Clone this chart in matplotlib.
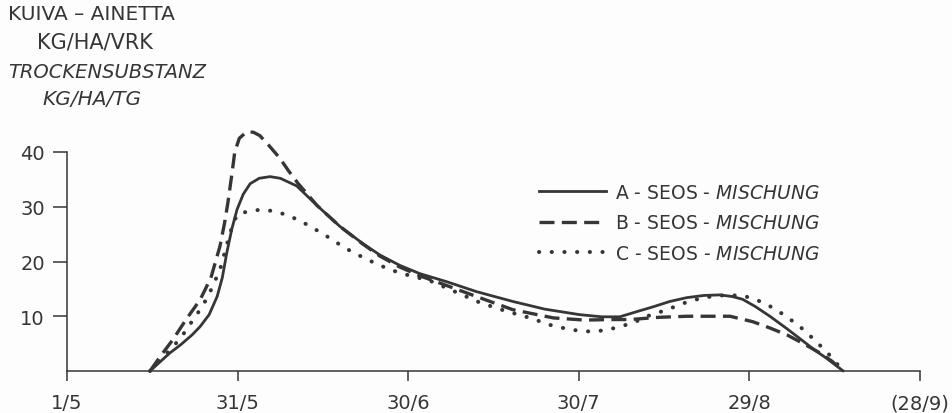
import matplotlib
matplotlib.use("Agg")
import matplotlib.pyplot as plt
from matplotlib.lines import Line2D

# ---- Data (days after 1/5, kg/ha/day) --------------------------------------
x_ticks = [0, 30, 60, 90, 120, 150]
x_labels = ["1/5", "31/5", "30/6", "30/7", "29/8", "(28/9)"]
y_ticks = [10, 20, 30, 40]

a_day = [14.6, 16.5, 18.1, 20, 22, 23.4, 25, 26.4, 27.3, 28.1, 29, 29.9, 31, 32.2,
         33.8, 35.7, 37.5, 40.4, 44, 48, 52, 55, 58.5, 62, 66.8, 72, 78.4, 84, 90.1,
         94, 97.2, 100.7, 103, 106, 109, 112, 114.8, 117, 118.8, 121, 123.6, 126.5,
         129.4, 131.5, 133.6, 136.5]
a_val = [0, 1.8, 3.3, 4.8, 6.6, 8.1, 10.3, 13.6, 17, 21.6, 26, 29.5, 32.3, 34.2,
         35.2, 35.5, 35.2, 33.8, 30.2, 26.4, 23.3, 21.2, 19.3, 17.8, 16.3, 14.5, 12.7,
         11.3, 10.3, 9.9, 9.9, 11.0, 11.7, 12.7, 13.4, 13.8, 13.9, 13.6, 13.1, 11.8,
         10, 7.8, 5.5, 3.8, 2.3, 0]

b_day = [14.6, 16.5, 18.6, 21, 23.4, 25.3, 26.9, 27.7, 28.3, 29, 29.5, 30.3, 31.6,
         32.8, 33.9, 35.5, 37.4, 39, 40.6, 44, 48, 52, 55, 58.5, 62, 66.8, 72, 78.4,
         85.5, 91, 96, 99, 104, 109, 116.6, 120.6, 123.5, 126.6, 129.5, 132.4, 134.5,
         136.5]
b_val = [0, 2.8, 5.7, 9.5, 13, 17, 22.8, 27, 30.8, 36, 40, 42.5, 43.7, 43.6, 43,
         41.2, 38.9, 36.5, 34.3, 30.2, 26.4, 23.2, 21.0, 19.0, 17.4, 15.6, 13.6, 11.2,
         9.7, 9.3, 9.4, 9.4, 9.8, 10.0, 10.0, 9.0, 7.9, 6.6, 5.0, 3.3, 1.8, 0]

c_day = [14.6, 16.3, 18.5, 20.5, 22.2, 23.8, 25.1, 26.9, 28.7, 29.9, 32, 34.4, 36.8,
         39.2, 42.5, 45.7, 49, 52.7, 56.8, 60, 63.8, 68, 72.6, 77, 81.4, 85, 87.9,
         90.3, 92.5, 95, 97.2, 99.6, 102, 105.5, 108.5, 111.8, 115, 118.7, 121, 123,
         125, 127.1, 129, 130.7, 132.2, 133.6, 135, 136.5]
c_val = [0, 2, 4.2, 6.8, 9.4, 11.8, 14.3, 18.5, 25.3, 28.6, 29.2, 29.5, 29.1, 28.3,
         26.6, 24.6, 22.4, 20.4, 18.5, 17.5, 16.5, 14.6, 12.5, 11, 9.7, 8.4, 7.7, 7.3,
         7.2, 7.5, 8.1, 8.8, 10, 11.2, 12.4, 13.4, 13.8, 13.8, 13.1, 12.2, 11, 9.5, 8,
         6.4, 4.9, 3.5, 1.8, 0]

labels = [r"A - SEOS - $\mathit{MISCHUNG}$",
          r"B - SEOS - $\mathit{MISCHUNG}$",
          r"C - SEOS - $\mathit{MISCHUNG}$"]

INK = "#363636"
plt.rcParams["mathtext.fontset"] = "dejavusans"
plt.rcParams["font.family"] = "DejaVu Sans"

fig = plt.figure(figsize=(9.52, 4.14), dpi=100, facecolor="#fdfdfd")
ax = fig.add_axes([67 / 952, 1 - 372 / 414, 853 / 952, 219 / 414])
ax.set_facecolor("#fdfdfd")

DASH = (0, (4.5, 2.2))
DOT = (0, (0.05, 3.1))

ax.plot(a_day, a_val, color=INK, lw=2.0, solid_capstyle="round", clip_on=False)
ax.plot(b_day, b_val, color=INK, lw=2.4, linestyle=DASH, clip_on=False)
ax.plot(c_day, c_val, color=INK, lw=2.9, linestyle=DOT,
        dash_capstyle="round", clip_on=False)

ax.set_xlim(0, 150)
ax.set_ylim(0, 40)
for s in ["top", "right"]:
    ax.spines[s].set_visible(False)
for s in ["left", "bottom"]:
    ax.spines[s].set_color(INK)
    ax.spines[s].set_linewidth(1.1)

ax.set_xticks(x_ticks)
ax.set_xticklabels(x_labels)
ax.set_yticks(y_ticks)
ax.tick_params(axis="x", length=7, width=1.1, color=INK, pad=9,
               labelsize=14, labelcolor=INK)
ax.tick_params(axis="y", length=10, width=1.1, color=INK, pad=6,
               labelsize=14, labelcolor=INK)

# legend
handles = [
    Line2D([], [], color=INK, lw=2.0),
    Line2D([], [], color=INK, lw=2.4, linestyle=DASH),
    Line2D([], [], color=INK, lw=2.9, linestyle=DOT, dash_capstyle="round"),
]
leg = ax.legend(handles, labels, loc="upper left", bbox_to_anchor=(0.553, 0.86),
                frameon=False, fontsize=13.5, handlelength=3.6, handletextpad=0.45,
                labelspacing=0.62, borderaxespad=0, borderpad=0)
for t in leg.get_texts():
    t.set_color(INK)

# y-axis title block
fig.text(8 / 952, 1 - 15 / 414, "KUIVA – AINETTA", fontsize=14.5, color=INK,
         ha="left", va="center")
fig.text(95 / 952, 1 - 43 / 414, "KG/HA/VRK", fontsize=15, color=INK,
         ha="center", va="center")
fig.text(8 / 952, 1 - 73 / 414, "TROCKENSUBSTANZ", fontsize=14, color=INK,
         style="italic", ha="left", va="center")
fig.text(92 / 952, 1 - 100 / 414, "KG/HA/TG", fontsize=14.5, color=INK,
         style="italic", ha="center", va="center")

fig.savefig("out.png", dpi=100, facecolor=fig.get_facecolor())
